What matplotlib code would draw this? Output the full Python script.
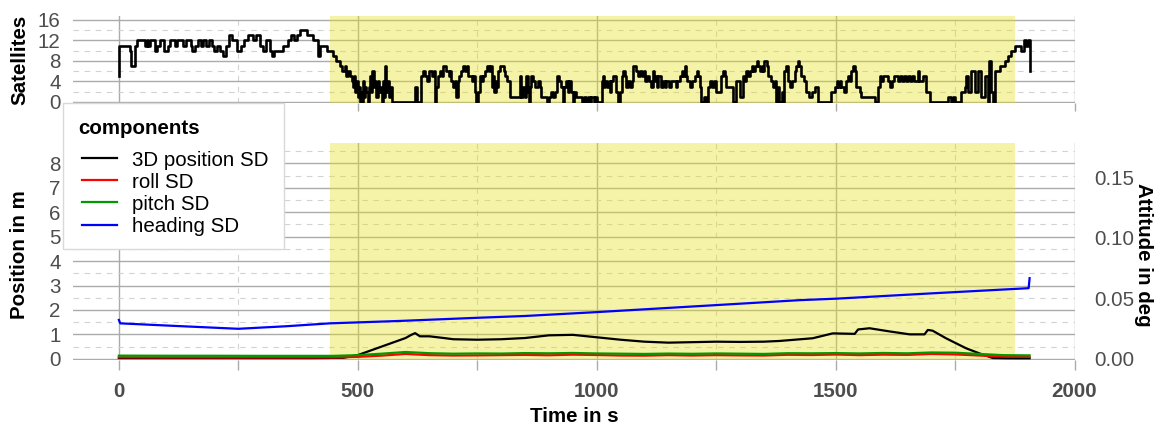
import matplotlib
matplotlib.use('Agg')
import matplotlib.pyplot as plt
from matplotlib.ticker import MultipleLocator, FixedLocator, FormatStrFormatter
from matplotlib.patches import Rectangle

plt.rcParams['font.family'] = ['Liberation Sans', 'DejaVu Sans']
plt.rcParams['lines.scale_dashes'] = False

# ---------------- data ----------------
sat_time = [0, 1, 23, 26, 33, 38, 55, 58, 62, 66, 75, 80, 86, 95, 102, 106, 118, 122, 135, 140,
            150, 153, 160, 165, 172, 176, 182, 188, 195, 200, 206, 212, 218, 224, 230, 236, 248,
            255, 262, 270, 280, 286, 296, 302, 308, 316, 320, 324, 344, 354, 360, 366, 372, 379,
            393, 407, 417, 421, 435, 441, 448, 455, 462, 468, 473, 476, 480, 483, 487, 490, 493,
            495, 498, 500, 502, 504, 507, 509, 511, 514, 516, 518, 521, 523, 525, 528, 530, 533,
            536, 539, 542, 545, 548, 550, 552, 554, 557, 560, 563, 566, 568, 572, 620, 623, 632,
            637, 640, 645, 648, 650, 656, 659, 661, 664, 668, 672, 676, 679, 684, 690, 692, 696,
            700, 703, 706, 709, 712, 717, 721, 724, 728, 731, 738, 741, 745, 748, 751, 755, 760,
            763, 766, 770, 774, 777, 780, 783, 786, 789, 792, 794, 797, 805, 808, 813, 818, 839,
            842, 846, 849, 853, 856, 859, 861, 863, 867, 870, 877, 881, 884, 897, 900, 905, 909,
            913, 917, 922, 926, 929, 931, 935, 940, 943, 947, 951, 953, 957, 964, 970, 973, 978,
            981, 986, 989, 994, 997, 1000, 1011, 1014, 1016, 1018, 1022, 1025, 1028, 1030, 1034,
            1040, 1044, 1048, 1052, 1056, 1059, 1062, 1066, 1070, 1073, 1076, 1083, 1086, 1090,
            1094, 1098, 1102, 1106, 1110, 1114, 1117, 1120, 1123, 1126, 1128, 1135, 1139, 1142,
            1146, 1152, 1156, 1165, 1169, 1174, 1178, 1181, 1184, 1186, 1188, 1196, 1199, 1205,
            1209, 1212, 1216, 1219, 1224, 1228, 1232, 1237, 1241, 1245, 1250, 1261, 1265, 1268,
            1271, 1285, 1292, 1299, 1306, 1310, 1313, 1317, 1320, 1324, 1328, 1331, 1335, 1338,
            1341, 1345, 1348, 1351, 1356, 1358, 1365, 1369, 1373, 1376, 1380, 1382, 1387, 1389,
            1393, 1397, 1400, 1405, 1409, 1414, 1418, 1421, 1424, 1428, 1434, 1439, 1445, 1450,
            1456, 1463, 1491, 1498, 1502, 1505, 1509, 1512, 1517, 1522, 1526, 1530, 1533, 1537,
            1540, 1543, 1550, 1554, 1582, 1589, 1593, 1596, 1599, 1610, 1614, 1618, 1623, 1630,
            1634, 1638, 1644, 1648, 1652, 1656, 1660, 1665, 1672, 1675, 1683, 1690, 1697, 1735,
            1742, 1745, 1749, 1763, 1770, 1773, 1777, 1784, 1791, 1798, 1805, 1812, 1819, 1822,
            1826, 1829, 1833, 1843, 1854, 1861, 1868, 1875, 1888, 1895, 1899, 1902, 1906]
sat_count = [5, 11, 10, 7, 11, 12, 11, 12, 11, 12, 10, 11, 12, 10, 11, 12, 11, 12, 11, 12,
             11, 10, 11, 12, 11, 12, 11, 12, 11, 10, 11, 10, 9, 11, 13, 12, 10,
             11, 12, 13, 12, 13, 11, 10, 12, 10, 9, 10, 11, 12, 13, 12, 13, 14,
             13, 12, 9, 11, 10, 10, 9, 8, 7, 6, 7, 5, 6, 5, 4, 3, 5,
             2, 4, 1, 3, 0, 2, 0, 4, 1, 3, 2, 0, 3, 5, 2, 6, 3,
             4, 1, 4, 2, 3, 0, 4, 1, 7, 2, 4, 1, 3, 0, 3, 0, 5,
             6, 5, 4, 5, 6, 5, 6, 0, 3, 5, 6, 5, 7, 6, 5, 6, 4,
             3, 4, 1, 4, 5, 6, 7, 6, 7, 5, 4, 5, 2, 0, 2, 5, 4,
             5, 6, 7, 6, 7, 3, 5, 2, 4, 3, 6, 7, 6, 5, 4, 1, 5,
             1, 3, 1, 5, 2, 0, 3, 5, 4, 3, 4, 3, 1, 0, 1, 2, 1,
             2, 5, 4, 3, 0, 3, 4, 2, 4, 2, 0, 2, 1, 1, 0, 1, 0,
             1, 0, 1, 0, 1, 0, 4, 5, 3, 4, 3, 4, 2, 4, 5,
             2, 0, 2, 5, 6, 5, 3, 4, 3, 4, 7, 6, 5, 6,
             5, 6, 4, 5, 4, 3, 6, 4, 5, 3, 5, 3, 4, 3,
             4, 3, 4, 3, 4, 5, 6, 5, 7, 5, 4, 3, 4, 5,
             6, 5, 3, 0, 1, 0, 3, 4, 3, 4, 2, 5, 6, 5,
             3, 0, 4, 1, 5, 4, 6, 5, 6, 7, 6, 7, 8, 7,
             6, 7, 6, 8, 7, 5, 4, 3, 4, 0, 3, 0, 2, 0,
             6, 7, 4, 3, 4, 6, 7, 8, 7, 5, 4, 2, 1, 2,
             3, 0, 2, 3, 4, 3, 4, 3, 2, 4, 5, 4, 6, 7,
             6, 3, 2, 1, 0, 3, 5, 4, 5, 4, 3, 4, 5, 4,
             5, 4, 5, 4, 5, 4, 5, 4, 6, 4, 5, 2, 0, 1,
             0, 1, 0, 2, 3, 5, 2, 6, 2, 6, 1, 5, 0, 8,
             2, 0, 6, 7, 8, 9, 10, 11, 10, 12, 11, 12, 6]

pos_time = [0, 200, 400, 470, 500, 550, 600, 612, 620, 630, 650, 680, 700, 750, 800, 850, 900,
            950, 1000, 1050, 1100, 1150, 1200, 1250, 1300, 1350, 1383, 1452, 1494, 1540, 1547,
            1571, 1613, 1655, 1686, 1693, 1703, 1731, 1773, 1801, 1829, 1860, 1906]
pos_sd = [0.03, 0.03, 0.03, 0.04, 0.15, 0.5, 0.85, 0.98, 1.05, 0.92, 0.92, 0.85, 0.8, 0.78,
          0.8, 0.85, 0.96, 0.98, 0.88, 0.78, 0.7, 0.66, 0.68, 0.7, 0.69, 0.7, 0.73, 0.84, 1.04,
          1.02, 1.2, 1.25, 1.12, 1.0, 1.0, 1.18, 1.15, 0.84, 0.43, 0.22, 0.03, 0.02, 0.02]

att_time = [0, 100, 200, 300, 400, 450, 500, 550, 600, 650, 700, 750, 800, 850, 900, 950, 1000,
            1050, 1100, 1150, 1200, 1250, 1300, 1350, 1400, 1450, 1500, 1550, 1600, 1650, 1700,
            1750, 1800, 1850, 1906]
pitch_sd = [0.0026, 0.0025, 0.0025, 0.0024, 0.0024, 0.0024, 0.0030, 0.0042, 0.0056, 0.0046,
            0.0042, 0.0044, 0.0043, 0.0047, 0.0045, 0.0048, 0.0044, 0.0042, 0.0040, 0.0043,
            0.0041, 0.0044, 0.0042, 0.0040, 0.0046, 0.0045, 0.0047, 0.0044, 0.0048, 0.0045,
            0.0052, 0.0050, 0.0040, 0.0030, 0.0028]
roll_sd = [0.0012, 0.0011, 0.0011, 0.0011, 0.0011, 0.0011, 0.0016, 0.0026, 0.0040, 0.0030,
           0.0027, 0.0028, 0.0030, 0.0032, 0.0029, 0.0034, 0.0031, 0.0027, 0.0026, 0.0030,
           0.0027, 0.0030, 0.0028, 0.0027, 0.0033, 0.0031, 0.0035, 0.0030, 0.0034, 0.0032,
           0.0040, 0.0036, 0.0027, 0.0018, 0.0016]

heading_time = [0, 3, 100, 250, 350, 441, 500, 588, 750, 850, 1000, 1250, 1425, 1500, 1700,
                1904, 1906]
heading_sd = [0.0321, 0.0293, 0.0275, 0.0248, 0.0269, 0.0293, 0.0301, 0.0313, 0.0339, 0.0354,
              0.0386, 0.0444, 0.0485, 0.0497, 0.0541, 0.0584, 0.0667]

series_labels = ['3D position SD', 'roll SD', 'pitch SD', 'heading SD']
legend_title = 'components'

outage_start, outage_end = 441, 1876
att_per_m = 0.0202

# ---------------- figure ----------------
W, H = 1157, 428
fig = plt.figure(figsize=(W / 100, H / 100), dpi=100)


def rect(x0, y0, x1, y1):
    return [x0 / W, 1 - y1 / H, (x1 - x0) / W, (y1 - y0) / H]


TICK_GRAY = '#4D4D4D'
MAJ = '#ABABAB'
MIN = '#D2D2D2'
FS = 14.8
YEL = (0.90, 0.88, 0.10)

ax1 = fig.add_axes(rect(73, 16, 1075, 103))
ax2 = fig.add_axes(rect(73, 142.7, 1075, 359.5))

for ax in (ax1, ax2):
    ax.set_xlim(-96, 2001)
    ax.set_axisbelow(True)
    for s in ax.spines.values():
        s.set_visible(False)
    ax.xaxis.set_major_locator(MultipleLocator(500))
    ax.xaxis.set_minor_locator(MultipleLocator(250))
    ax.grid(True, which='major', color=MAJ, lw=1.0, ls='-')
    ax.grid(True, which='minor', color=MIN, lw=0.8, ls=(0, (4, 4)))
    ax.axvspan(outage_start, outage_end, color=YEL, alpha=0.38, lw=0, zorder=1)
    ax.tick_params(axis='y', length=0, pad=9, labelsize=FS, labelcolor=TICK_GRAY)

# top panel
ax1.step(sat_time, sat_count, where='post', color='black', lw=1.9, zorder=3)
ax1.set_ylim(-0.2, 16.78)
ax1.yaxis.set_major_locator(MultipleLocator(4))
ax1.yaxis.set_minor_locator(MultipleLocator(2))
ax1.tick_params(axis='x', which='major', length=6, color=MAJ, width=1.0, labelbottom=False)
ax1.tick_params(axis='x', which='minor', length=0)
ax1.tick_params(axis='y', which='minor', length=0)

# bottom panel
l_pos, = ax2.plot(pos_time, pos_sd, color='black', lw=1.6, zorder=3)
ax2.set_ylim(-0.03, 8.85)
ax2.yaxis.set_major_locator(FixedLocator(range(0, 9)))
ax2.yaxis.set_minor_locator(MultipleLocator(0.5))
ax2.tick_params(axis='y', which='minor', length=0)
ax2.tick_params(axis='x', which='both', length=7, color=MAJ, width=1.0)
ax2.tick_params(axis='x', which='major', pad=9, labelsize=FS, labelcolor=TICK_GRAY)
for t in ax2.get_xticklabels():
    t.set_fontweight('bold')

ax3 = ax2.twinx()
for s in ax3.spines.values():
    s.set_visible(False)
ax3.set_ylim(ax2.get_ylim()[0] * att_per_m, ax2.get_ylim()[1] * att_per_m)
ax3.yaxis.set_major_locator(FixedLocator([0.0, 0.05, 0.10, 0.15]))
ax3.yaxis.set_major_formatter(FormatStrFormatter('%.2f'))
ax3.tick_params(axis='y', length=0, pad=14, labelsize=FS, labelcolor=TICK_GRAY)
l_roll, = ax3.plot(att_time, roll_sd, color='#FF0000', lw=1.6, zorder=3)
l_pitch, = ax3.plot(att_time, pitch_sd, color='#009A00', lw=1.6, zorder=3)
l_head, = ax3.plot(heading_time, heading_sd, color='#0000FF', lw=1.6, zorder=3)

# axis titles
fig.text(20 / W, 1 - 60 / H, 'Satellites', rotation=90, ha='center', va='center',
         fontsize=FS, fontweight='bold')
fig.text(20 / W, 1 - 255 / H, 'Position in m', rotation=90, ha='center', va='center',
         fontsize=FS, fontweight='bold')
fig.text(1143 / W, 1 - 255 / H, 'Attitude in deg', rotation=270, ha='center', va='center',
         fontsize=FS, fontweight='bold')
fig.text(574 / W, 1 - 416 / H, 'Time in s', ha='center', va='center',
         fontsize=FS, fontweight='bold')

# legend: frame, title, entries
frame = Rectangle((63 / W, 1 - 249 / H), (284 - 63) / W, (249 - 103) / H,
                  transform=fig.transFigure, facecolor='white', edgecolor='#D9D9D9',
                  lw=1.0, zorder=4)
fig.add_artist(frame)
fig.text(78 / W, 1 - 128 / H, legend_title, ha='left', va='center', fontsize=FS,
         fontweight='bold', zorder=6)
leg = fig.legend([l_pos, l_roll, l_pitch, l_head], series_labels,
                 loc='upper left', bbox_to_anchor=(82 / W, 1 - 150.5 / H),
                 bbox_transform=fig.transFigure, fontsize=FS, frameon=False,
                 borderaxespad=0, borderpad=0, handlelength=1.7,
                 handletextpad=0.72, labelspacing=0.15)
leg.set_zorder(6)

fig.savefig('out.png', dpi=100)
